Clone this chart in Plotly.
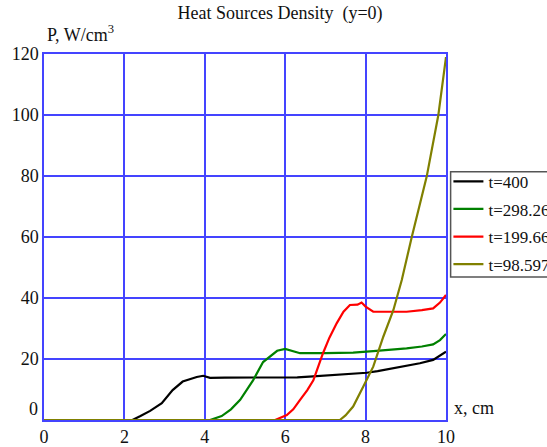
import plotly.graph_objects as go

# ---- data ----
x_t400 = [0, 2.2, 2.4, 2.64, 2.93, 3.2, 3.45, 3.59, 3.8, 3.96, 4.13, 4.5, 5, 5.5, 6, 6.3, 6.6, 7, 7.36, 7.7, 8.03, 8.3, 8.69, 9.0, 9.35, 9.68, 9.85, 10]
p_t400 = [0, 0, 1.3, 3.0, 5.5, 9.8, 12.6, 13.3, 14.1, 14.5, 13.8, 13.9, 13.9, 13.9, 13.9, 14.0, 14.2, 14.5, 14.8, 15.1, 15.5, 16.0, 16.9, 17.6, 18.6, 19.7, 21.2, 22.4]

x_t298 = [0, 4.13, 4.42, 4.65, 4.88, 5.05, 5.2, 5.45, 5.65, 5.8, 6.0, 6.15, 6.37, 7.0, 7.69, 8.19, 8.6, 9.02, 9.4, 9.68, 9.85, 10]
p_t298 = [0, 0, 1.3, 3.5, 6.6, 9.8, 13.0, 19.0, 21.2, 22.7, 23.3, 22.8, 21.9, 21.9, 22.1, 22.6, 23.0, 23.5, 24.1, 24.8, 26.2, 28.2]

x_t199 = [0, 5.75, 6.04, 6.2, 6.37, 6.55, 6.7, 6.94, 7.1, 7.28, 7.45, 7.61, 7.8, 7.9, 8.0, 8.19, 8.6, 9.02, 9.4, 9.68, 9.85, 10]
p_t199 = [0, 0, 1.6, 3.5, 6.6, 9.8, 13.0, 21.9, 27.0, 31.7, 35.5, 37.7, 37.8, 38.5, 37.2, 35.5, 35.5, 35.5, 36.0, 36.6, 38.5, 41.0]

x_t98 = [0, 7.36, 7.5, 7.69, 7.94, 8.19, 8.44, 8.69, 8.9, 9.15, 9.52, 9.81, 10]
p_t98 = [0, 0, 1.5, 4.4, 10.9, 17.5, 27.3, 36.0, 45.9, 60.1, 79.8, 100.0, 119.0]

series_names = ["t=400", "t=298.26", "t=199.66", "t=98.597"]
series_colors = ["#000000", "#008000", "#ff0000", "#808000"]
x_ticks = [0, 2, 4, 6, 8, 10]
y_ticks = [20, 40, 60, 80, 100, 120]

FONT = "Liberation Serif, Times New Roman, serif"
GRID = "#4444ff"

fig = go.Figure()
for i, (xs, ps, name, col) in enumerate(zip([x_t400, x_t298, x_t199, x_t98],
                                            [p_t400, p_t298, p_t199, p_t98],
                                            series_names, series_colors)):
    fig.add_trace(go.Scatter(x=xs, y=ps, mode="lines", name=name,
                             legendgroup=f"g{i}",
                             line=dict(color=col, width=2.2), cliponaxis=False))

fig.update_layout(
    width=547, height=447,
    margin=dict(l=44, r=101, t=54, b=27, autoexpand=False),
    paper_bgcolor="white", plot_bgcolor="white",
    font=dict(family=FONT, size=18, color="#111111"),
    title=dict(text="Heat Sources Density  (y=0)", x=0.512, xref="container",
               y=0.972, yref="container", yanchor="middle", xanchor="center",
               font=dict(family=FONT, size=18, color="#111111")),
    showlegend=True,
    legend=dict(x=1.006, xanchor="left", y=0.700, yanchor="top",
                borderwidth=0, bgcolor="rgba(0,0,0,0)",
                font=dict(family=FONT, size=17, color="#111111"),
                tracegroupgap=2.5),
    shapes=[
        dict(type="rect", xref="paper", yref="paper",
             x0=1.0115, x1=1.35, y0=0.391, y1=0.678,
             line=dict(color="#555555", width=1.5), fillcolor="white", layer="below"),
    ],
    xaxis=dict(range=[0, 10], tickvals=x_ticks, ticktext=[str(v) for v in x_ticks],
               showgrid=True, gridcolor=GRID, gridwidth=1.5,
               showline=True, linecolor=GRID, linewidth=1.5, mirror=True,
               zeroline=False, ticks="", tickfont=dict(size=18)),
    yaxis=dict(range=[0, 120], tickvals=y_ticks, ticktext=[str(v) for v in y_ticks],
               showgrid=True, gridcolor=GRID, gridwidth=1.5,
               showline=True, linecolor=GRID, linewidth=1.5, mirror=True,
               zeroline=False, ticks="", tickfont=dict(size=18)),
    annotations=[
        dict(text="P, W/cm<sup>3</sup>", xref="paper", yref="paper",
             x=0.0025, y=1.057, xanchor="left", yanchor="middle",
             showarrow=False, font=dict(family=FONT, size=18)),
        dict(text="0", xref="paper", yref="paper",
             x=-0.01, y=0.030, xanchor="right", yanchor="middle",
             showarrow=False, font=dict(family=FONT, size=18)),
        dict(text="x, cm", xref="paper", yref="paper",
             x=1.015, y=0.033, xanchor="left", yanchor="middle",
             showarrow=False, font=dict(family=FONT, size=18)),
    ],
)

fig.write_html("out.html", config={"displayModeBar": False},
               post_script="document.body.style.margin='0';document.body.style.overflow='hidden';")
